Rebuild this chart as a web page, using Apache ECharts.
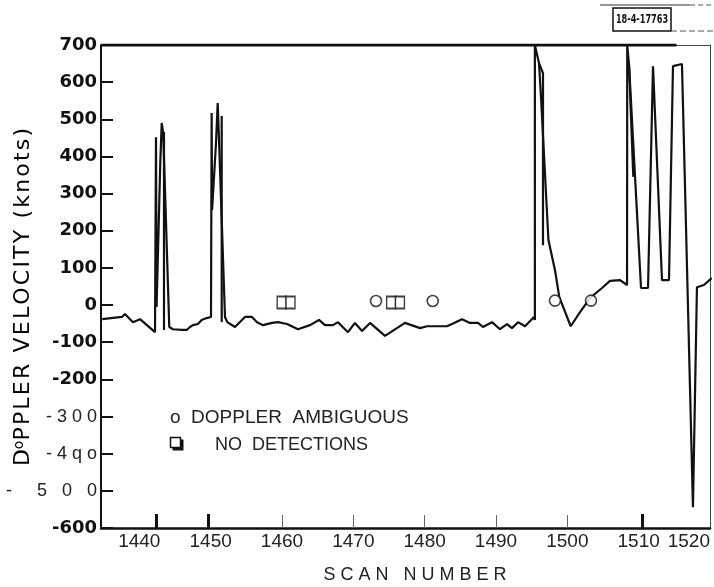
<!DOCTYPE html>
<html><head><meta charset="utf-8">
<script src="https://cdn.jsdelivr.net/npm/echarts@6/dist/echarts.min.js"></script>
<style>html,body{margin:0;padding:0;background:#fff}#c{width:714px;height:587px}</style>
</head><body><div id="c"></div>
<script>
// ---- data ----
const scanNumbers = [1434.8,1437.57,1437.99,1439.11,1440.09,1441.07,1442.2,1442.3,1442.34,1442.42,1442.94,1443.14,1443.35,1444.2,1444.72,1445.94,1446.64,1447.1,1447.52,1448.22,1448.74,1449.44,1450.05,1450.14,1450.2,1450.75,1450.99,1451.21,1452.01,1452.33,1453.41,1454.81,1455.79,1456.5,1457.34,1458.6,1459.44,1460.7,1462.24,1463.93,1465.19,1466.03,1467.15,1467.85,1469.25,1470.23,1471.22,1472.34,1474.44,1477.24,1479.35,1480.33,1483.13,1483.83,1485.23,1486.36,1487.48,1488.18,1489.44,1490.56,1491.54,1492.24,1493.09,1494.07,1495.33,1495.45,1495.45,1496.03,1496.31,1497.35,1498.27,1498.87,1500.47,1501.78,1503.18,1504.86,1505.98,1507.39,1508.37,1508.4,1508.65,1510.33,1511.31,1512.01,1513.27,1514.25,1514.81,1516.07,1517.61,1518.17,1519.15,1520.25];
const velocity = [-38,-32,-24,-46,-38,-54,-73,-78,452,-5,382,490,463,-59,-65,-67,-67,-59,-54,-51,-40,-35,-32,517,256,436,544,425,-32,-46,-59,-32,-32,-46,-54,-48,-46,-51,-65,-54,-40,-54,-54,-46,-73,-48,-70,-48,-83,-48,-62,-57,-57,-51,-38,-48,-48,-59,-46,-65,-51,-62,-46,-57,-32,-40,700,651,560,175,94,22,-57,-19,19,46,65,67,54,700,646,46,46,643,67,67,643,649,-544,48,54,73];
// secondary pen strokes beside the spikes
const strokeScans = [[1443.46,1443.46],[1451.55,1451.55],[1496.03,1496.59,1496.59],[1508.65,1509.25]];
const strokeVelocity = [[466,-67],[509,-46],[651,624,161],[646,345]];
// upper recorder limit line
const limitScans = [1434.63,1515.3];
const limitVelocity = [700,700];
// markers
const ambiguousScans = [1473.18,1481.13,1498.27,1503.32];
const ambiguousVelocity = [11,11,12,12];
const noDetectionScans = [1459.96,1461.19,1475.3,1476.53];
const noDetectionVelocity = [7,7,7,7];
// axes
const xMin = 1434.63, xMax = 1520;
const xTickLabels = [1440,1450,1460,1470,1480,1490,1500,1510,1520];
const xThinTicks = [1460,1470,1480,1490,1500];
const xScanMarks = [1442.4,1449.6,1510.47];
const yMin = -600, yMax = 700, yStep = 100;
const yTickLabels = ['-600','-     5   0   0','- 4 q o','- 3 0 0','-200','-100','0','100','200','300','400','500','600','700'];
const yTitle = 'PPLER VELOCITY (knots)';

const chart = echarts.init(document.getElementById('c'), null, {renderer:'canvas'});
const pair = (xs, ys) => xs.map((x,i)=>[x, ys[i]]);
const black = '#111';
const hair = s => s.split('').join('\u200A');

const strokeSeries = strokeScans.map((xs,i)=>({
  type:'line', data: pair(xs, strokeVelocity[i]), symbol:'none',
  lineStyle:{color:black,width:2.2}, animation:false, z:3, silent:true
}));

const option = {
  animation:false,
  backgroundColor:'#fff',
  grid:{left:101,right:4,top:45,bottom:59,containLabel:false},
  xAxis:[
    {type:'value',min:xMin,max:xMax,position:'bottom',
     axisLine:{onZero:false,lineStyle:{color:black,width:2.5}},
     axisTick:{inside:true,length:13,customValues:xThinTicks,lineStyle:{color:'#666',width:1}},
     axisLabel:{customValues:xTickLabels,formatter:v=>String(v),margin:4,color:'#222',
       fontFamily:'Liberation Sans',fontSize:19,alignMaxLabel:'right'},
     splitLine:{show:false}},
    {type:'value',min:xMin,max:xMax,position:'bottom',
     axisLine:{show:false,onZero:false},
     axisTick:{inside:true,length:14,customValues:xScanMarks,lineStyle:{color:black,width:3}},
     axisLabel:{show:false},splitLine:{show:false}},
    {type:'value',min:xMin,max:xMax,position:'top',
     axisLine:{onZero:false,lineStyle:{color:'#444',width:1}},
     axisTick:{show:false},axisLabel:{show:false},splitLine:{show:false}}
  ],
  yAxis:[
    {type:'value',min:yMin,max:yMax,interval:yStep,
     axisLine:{show:true,onZero:false,lineStyle:{color:black,width:2}},
     axisTick:{inside:true,length:12,lineStyle:{color:black,width:2}},
     axisLabel:{margin:4,
       formatter:v=>{const t=yTickLabels[Math.round((v-yMin)/yStep)]; return /\s/.test(t)?'{l|'+t+'}':'{b|'+t+'}';},
       rich:{
         b:{fontFamily:'DejaVu Sans',fontWeight:'bold',fontSize:18,color:black},
         l:{fontFamily:'Liberation Sans',fontSize:18,color:'#222'}
       }},
     splitLine:{show:false}},
    {type:'value',min:yMin,max:yMax,position:'right',
     axisLine:{show:true,onZero:false,lineStyle:{color:'#444',width:1}},
     axisTick:{show:false},axisLabel:{show:false},splitLine:{show:false}}
  ],
  series:[
    {name:'Doppler velocity',type:'line',data:pair(scanNumbers,velocity),symbol:'none',
     lineStyle:{color:black,width:2.2},z:3},
    ...strokeSeries,
    {name:'Limit',type:'line',data:pair(limitScans,limitVelocity),symbol:'none',
     lineStyle:{color:black,width:3},z:3},
    {name:'Doppler ambiguous',type:'scatter',data:pair(ambiguousScans,ambiguousVelocity),
     symbol:'circle',symbolSize:11,itemStyle:{color:'#fff',borderColor:black,borderWidth:1.6},z:5},
    {name:'No detections',type:'scatter',data:pair(noDetectionScans,noDetectionVelocity),
     symbol:'rect',symbolSize:[9,12],itemStyle:{color:'#fff',borderColor:black,borderWidth:1.6},z:5}
  ],
  graphic:[
    {type:'text',x:23,y:297,rotation:Math.PI/2,
     style:{text:'{n|D}{s|o}{n|'+hair(yTitle)+'}',align:'center',verticalAlign:'middle',
       rich:{n:{fontFamily:'DejaVu Sans',fontSize:22,color:black},
             s:{fontFamily:'DejaVu Sans',fontSize:14,color:black,verticalAlign:'top'}}}},
    {type:'text',x:415,y:575,
     style:{text:'S C A N   N U M B E R',align:'center',verticalAlign:'middle',
       fontFamily:'Liberation Sans',fontSize:18,fill:'#222'}},
    {type:'text',x:170,y:418,
     style:{text:'o  DOPPLER  AMBIGUOUS',align:'left',verticalAlign:'middle',
       fontFamily:'Liberation Sans',fontSize:19,fill:'#222'}},
    {type:'rect',shape:{x:172.5,y:439.5,width:11,height:11},style:{fill:black}},
    {type:'rect',shape:{x:170.5,y:437.5,width:10,height:10},style:{fill:'#fff',stroke:black,lineWidth:1.5}},
    {type:'text',x:215,y:445,
     style:{text:'NO  DETECTIONS',align:'left',verticalAlign:'middle',
       fontFamily:'Liberation Sans',fontSize:18,fill:'#222'}},
    {type:'rect',shape:{x:613,y:8,width:58,height:23},style:{fill:'none',stroke:black,lineWidth:1.5}},
    {type:'text',x:642,y:20,scaleX:0.68,
     style:{text:'18-4-17763',align:'center',verticalAlign:'middle',
       fontFamily:'DejaVu Sans',fontWeight:'bold',fontSize:12,fill:black}},
    {type:'line',shape:{x1:600,y1:5,x2:690,y2:5},style:{stroke:'#333',lineWidth:1}},
    {type:'line',shape:{x1:690,y1:5,x2:714,y2:5},style:{stroke:'#555',lineWidth:1,lineDash:[5,3]}},
    {type:'line',shape:{x1:671,y1:31,x2:714,y2:31},style:{stroke:'#555',lineWidth:1,lineDash:[6,3]}}
  ]
};
chart.setOption(option);
</script>
</body></html>
